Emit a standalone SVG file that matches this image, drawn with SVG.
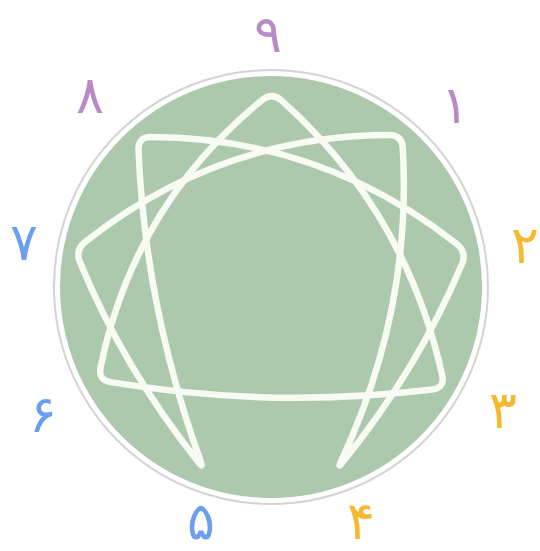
<svg xmlns="http://www.w3.org/2000/svg" width="540" height="551" viewBox="0 0 540 551">
<style>
.num{font-family:"DejaVu Sans","Noto Sans",sans-serif;font-size:52px;text-anchor:middle}
.p{fill:#b98ac6}.b{fill:#6c9ef0}.y{fill:#f6b92e}
.line{fill:none;stroke:#f8faf4;stroke-width:6.5;stroke-linejoin:round;stroke-linecap:round}
</style>
<rect width="540" height="551" fill="#ffffff"/>
<g id="circle">
<circle cx="271" cy="287" r="217" fill="#ffffff" stroke="#d4d4d4" stroke-width="2"/>
<circle cx="271" cy="287" r="211" fill="#adc9ad"/>
</g>
<g id="connectors">
<path id="triangle" class="line" d="M281.7,100.7 Q406,212 442.2,375.3 Q445,388 432.1,389.6 Q271,409 110.8,382.1 Q98,380 100.6,367.3 Q134,205 261.9,100.2 Q272,92 281.7,100.7 Z"/>
<path id="hexad" class="line" d="M402.8,148 Q412.2,309.6 340.5,462.6 Q338,468 341.8,463.3 Q418,369.2 462,264 Q467,252 456.8,244 Q322.3,137.9 151,137.1 Q138,137 138.5,150 Q145,307.5 201,462.4 Q203,468 199.3,463.3 Q123.5,368.1 79.9,262 Q75,250 85.2,241.9 Q218.6,135.9 389,135.1 Q402,135 402.8,148 Z"/>
</g>
<g id="n9"><text class="num p" x="268" y="52">۹</text></g>
<g id="n1"><text class="num p" x="455" y="123">۱</text></g>
<g id="n2"><text class="num y" x="525" y="263">۲</text></g>
<g id="n3"><text class="num y" x="503" y="428">۳</text></g>
<g id="n4"><text class="num y" x="361" y="539">۴</text></g>
<g id="n5"><text class="num b" x="201" y="539">۵</text></g>
<g id="n6"><text class="num b" x="43" y="432">۶</text></g>
<g id="n7"><text class="num b" x="24" y="260">۷</text></g>
<g id="n8"><text class="num p" x="90" y="113">۸</text></g>
</svg>
